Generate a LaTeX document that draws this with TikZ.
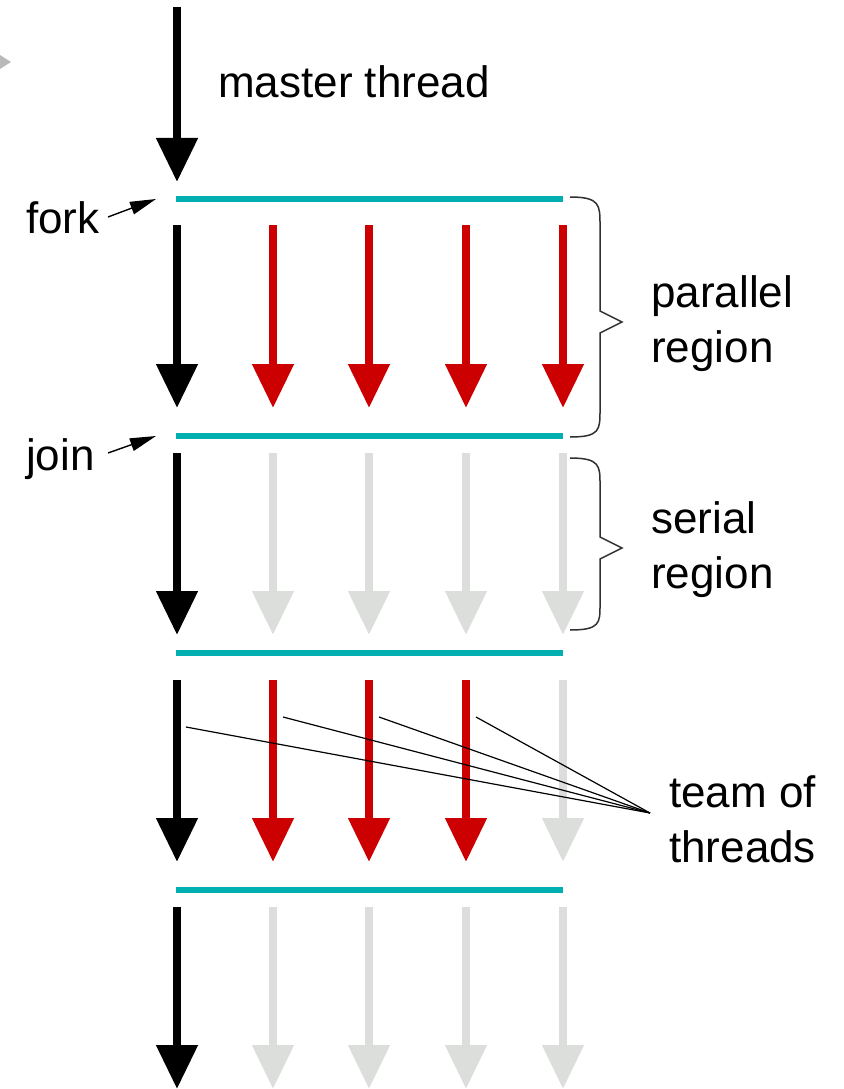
\documentclass[tikz,border=0pt]{standalone}
\usepackage{fontspec}
\setmainfont{Liberation Sans}
\usetikzlibrary{arrows.meta}
\definecolor{cyanbar}{HTML}{00B0B0}
\definecolor{thred}{HTML}{CC0000}
\definecolor{thgrey}{HTML}{DCDEDC}
\definecolor{bracegrey}{HTML}{303030}
\begin{document}
\begin{tikzpicture}[x=1pt,y=-1pt,
  thr/.style={line width=8pt,-{Triangle[length=44pt,width=40pt]}},
  master/.style={thr,draw=black},
  active/.style={thr,draw=thred},
  idle/.style={thr,draw=thgrey},
  bar/.style={line width=6pt,draw=cyanbar},
  lbl/.style={anchor=base west,inner sep=0pt,font=\fontsize{44}{55}\selectfont,align=left},
  pointer/.style={line width=1.4pt,-{Triangle[length=26pt,width=13pt]}},
  brace/.style={line width=1.5pt,draw=bracegrey,line join=miter},
  teamline/.style={line width=1.2pt,draw=black}]
\useasboundingbox (0,0) rectangle (843,1089);
% stray grey marker at the left edge
\fill[gray!55] (0,55) -- (11,62) -- (0,69) -- cycle;
% master thread
\coordinate (m0) at (177,7);
\coordinate (m1) at (177,182);
\draw[master] (m0) -- (m1);
\node[lbl] (mlabel) at (218,98) {master thread};
% bars
\foreach \y/\n in {199/b1,436/b2,653/b3,890/b4}{
  \coordinate (\n l) at (176,\y);
  \coordinate (\n r) at (563,\y);
  \draw[bar] (\n l) -- (\n r);
}
% segment 1: parallel region
\coordinate (s1a0) at (177,225); \coordinate (s1a1) at (177,408);
\draw[master] (s1a0) -- (s1a1);
\foreach \x [count=\i] in {273,369,466,563}{
  \coordinate (s1t\i) at (\x,225); \coordinate (s1b\i) at (\x,408);
  \draw[active] (s1t\i) -- (s1b\i);
}
% segment 2: serial region
\coordinate (s2a0) at (177,453); \coordinate (s2a1) at (177,635);
\draw[master] (s2a0) -- (s2a1);
\foreach \x [count=\i] in {273,369,466,563}{
  \coordinate (s2t\i) at (\x,453); \coordinate (s2b\i) at (\x,635);
  \draw[idle] (s2t\i) -- (s2b\i);
}
% segment 3: team of threads
\coordinate (s3a0) at (177,680); \coordinate (s3a1) at (177,862);
\draw[master] (s3a0) -- (s3a1);
\foreach \x/\c [count=\i] in {273/active,369/active,466/active,563/idle}{
  \coordinate (s3t\i) at (\x,680); \coordinate (s3b\i) at (\x,862);
  \draw[\c] (s3t\i) -- (s3b\i);
}
% segment 4
\coordinate (s4a0) at (177,907); \coordinate (s4a1) at (177,1089);
\draw[master] (s4a0) -- (s4a1);
\foreach \x [count=\i] in {273,369,466,563}{
  \coordinate (s4t\i) at (\x,907); \coordinate (s4b\i) at (\x,1089);
  \draw[idle] (s4t\i) -- (s4b\i);
}
% fork / join labels
\node[lbl] (fork) at (26,233) {fork};
\node[lbl] (join) at (26,470) {join};
\coordinate (fk0) at (108,217); \coordinate (fk1) at (156,199);
\coordinate (jn0) at (108,453); \coordinate (jn1) at (156,436);
\draw[pointer] (fk0) -- (fk1);
\draw[pointer] (jn0) -- (jn1);
% braces
\draw[brace] (570,197) .. controls (600,197) and (600,205) .. (600,225)
  -- (600,311) -- (622,322) -- (600,333) -- (600,410)
  .. controls (600,430) and (600,437) .. (570,437);
\draw[brace] (570,458) .. controls (600,458) and (600,466) .. (600,484)
  -- (600,537) -- (622,548) -- (600,559) -- (600,605)
  .. controls (600,623) and (600,630) .. (570,630);
\node[lbl] (par) at (651,362) {parallel\\region};
\node[lbl] (ser) at (651,588) {serial\\region};
% team of threads
\node[lbl] (team) at (669,862) {team of\\threads};
\coordinate (tc) at (650,813);
\coordinate (tl1) at (186,727);
\coordinate (tl2) at (283,717);
\coordinate (tl3) at (379,717);
\coordinate (tl4) at (476,717);
\foreach \i in {1,2,3,4}{ \draw[teamline] (tl\i) -- (tc); }
\end{tikzpicture}
\end{document}
